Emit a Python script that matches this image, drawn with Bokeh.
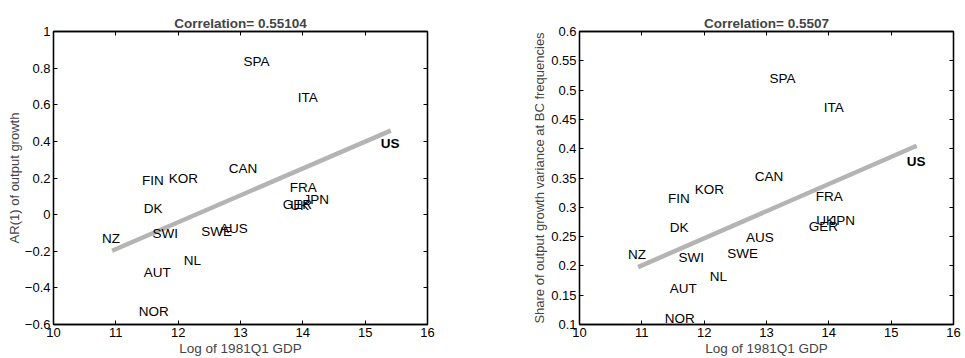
from bokeh.plotting import figure
from bokeh.layouts import row
from bokeh.models import LinearAxis, FixedTicker, CustomJSTickFormatter, ColumnDataSource, Range1d
from bokeh.core.properties import value
from bokeh.embed import file_html
from bokeh.resources import INLINE

countries = ["NZ", "FIN", "KOR", "DK", "SWI", "AUT", "NOR", "NL", "SWE", "AUS",
             "CAN", "SPA", "ITA", "FRA", "GER", "UK", "JPN", "US"]
log_gdp = [10.94, 11.58, 12.01, 11.61, 11.75, 11.61, 11.53, 12.25, 12.53, 12.83,
           12.97, 13.21, 14.08, 13.95, 13.84, 13.96, 14.17, 15.41]
ar1 = [-0.13, 0.187, 0.20, 0.033, -0.103, -0.315, -0.529, -0.248, -0.094, -0.076,
       0.25, 0.837, 0.637, 0.147, 0.056, 0.048, 0.082, 0.387]
bc_share = [0.219, 0.315, 0.330, 0.265, 0.214, 0.161, 0.111, 0.182, 0.222, 0.248,
            0.353, 0.519, 0.471, 0.319, 0.268, 0.278, 0.278, 0.378]
fit_x = [10.94, 15.41]
fit_ar1 = [-0.197, 0.459]
fit_bc = [0.198, 0.405]
titles = ["Correlation= 0.55104", "Correlation= 0.5507"]
y_labels = ["AR(1) of output growth", "Share of output growth variance at BC frequencies"]
x_label = "Log of 1981Q1 GDP"
x_ticks = [10, 11, 12, 13, 14, 15, 16]
ar1_ticks = [-0.6, -0.4, -0.2, 0, 0.2, 0.4, 0.6, 0.8, 1]
bc_ticks = [0.1, 0.15, 0.2, 0.25, 0.3, 0.35, 0.4, 0.45, 0.5, 0.55, 0.6]

FONT = "Liberation Sans"
fmt_code = "return (tick < 0 ? '\\u2212' : '') + Math.abs(tick).toString();"


def style_axis(ax, ticks, show_labels=True):
    ax.ticker = FixedTicker(ticks=ticks)
    ax.formatter = CustomJSTickFormatter(code=fmt_code)
    ax.major_tick_in = 4
    ax.major_tick_out = 0
    ax.minor_tick_in = 0
    ax.minor_tick_out = 0
    ax.axis_line_color = "black"
    ax.axis_line_width = 1.3
    ax.major_tick_line_color = "black"
    ax.major_tick_line_width = 1
    if show_labels:
        ax.major_label_text_font = FONT
        ax.major_label_text_font_size = "13px"
        ax.major_label_text_color = "black"
        ax.major_label_standoff = 3
    else:
        ax.major_label_text_font_size = "1px"
        ax.major_label_text_alpha = 0
        ax.major_label_standoff = 0


def make_plot(yvals, fit_y, yticks, ylab, title, width, border_left, border_right, ylab_standoff):
    p = figure(width=width, height=358, output_backend="svg", toolbar_location=None,
               x_range=Range1d(10, 16), y_range=Range1d(yticks[0], yticks[-1]),
               min_border_left=border_left, min_border_right=border_right,
               min_border_top=31, min_border_bottom=34,
               x_axis_type=None, y_axis_type=None)
    p.title.text = title
    p.title.align = "center"
    p.title.text_font = FONT
    p.title.text_font_size = "13.5px"
    p.title.text_font_style = "bold"
    p.title.offset = 0
    p.title.standoff = 2
    p.grid.visible = False
    p.outline_line_color = "black"
    p.outline_line_width = 1.3
    p.background_fill_color = "white"
    p.border_fill_color = "white"

    xb = LinearAxis(axis_label=x_label)
    style_axis(xb, x_ticks)
    xb.axis_label_text_font = FONT
    xb.axis_label_text_font_size = "13.5px"
    xb.axis_label_text_font_style = "normal"
    xb.axis_label_standoff = 1
    p.add_layout(xb, "below")

    yl = LinearAxis(axis_label=ylab)
    style_axis(yl, yticks)
    yl.axis_label_text_font = FONT
    yl.axis_label_text_font_size = "13px"
    yl.axis_label_text_font_style = "normal"
    yl.axis_label_standoff = ylab_standoff
    p.add_layout(yl, "left")

    xa = LinearAxis()
    style_axis(xa, x_ticks, show_labels=False)
    p.add_layout(xa, "above")
    yr = LinearAxis()
    style_axis(yr, yticks, show_labels=False)
    p.add_layout(yr, "right")

    p.line(fit_x, fit_y, line_color="#b4b4b4", line_width=4.5)

    normal = [i for i, c in enumerate(countries) if c != "US"]
    bold = [i for i, c in enumerate(countries) if c == "US"]
    src_n = ColumnDataSource(dict(x=[log_gdp[i] for i in normal], y=[yvals[i] for i in normal],
                                  t=[countries[i] for i in normal]))
    src_b = ColumnDataSource(dict(x=[log_gdp[i] for i in bold], y=[yvals[i] for i in bold],
                                  t=[countries[i] for i in bold]))
    p.text(x="x", y="y", text="t", source=src_n, text_font=value(FONT),
           text_font_size="13.5px", text_align="left", text_baseline="middle",
           text_color="black", x_offset=-10)
    p.text(x="x", y="y", text="t", source=src_b, text_font=value(FONT),
           text_font_size="13.5px", text_font_style="bold", text_align="left",
           text_baseline="middle", text_color="black", x_offset=-10)
    return p


p1 = make_plot(ar1, fit_ar1, ar1_ticks, y_labels[0], titles[0], 480, 53, 53, 0)
p2 = make_plot(bc_share, fit_bc, bc_ticks, y_labels[1], titles[1], 485, 99, 12, 1)

layout = row(p1, p2)
open("out.html", "w").write(file_html(layout, INLINE))
